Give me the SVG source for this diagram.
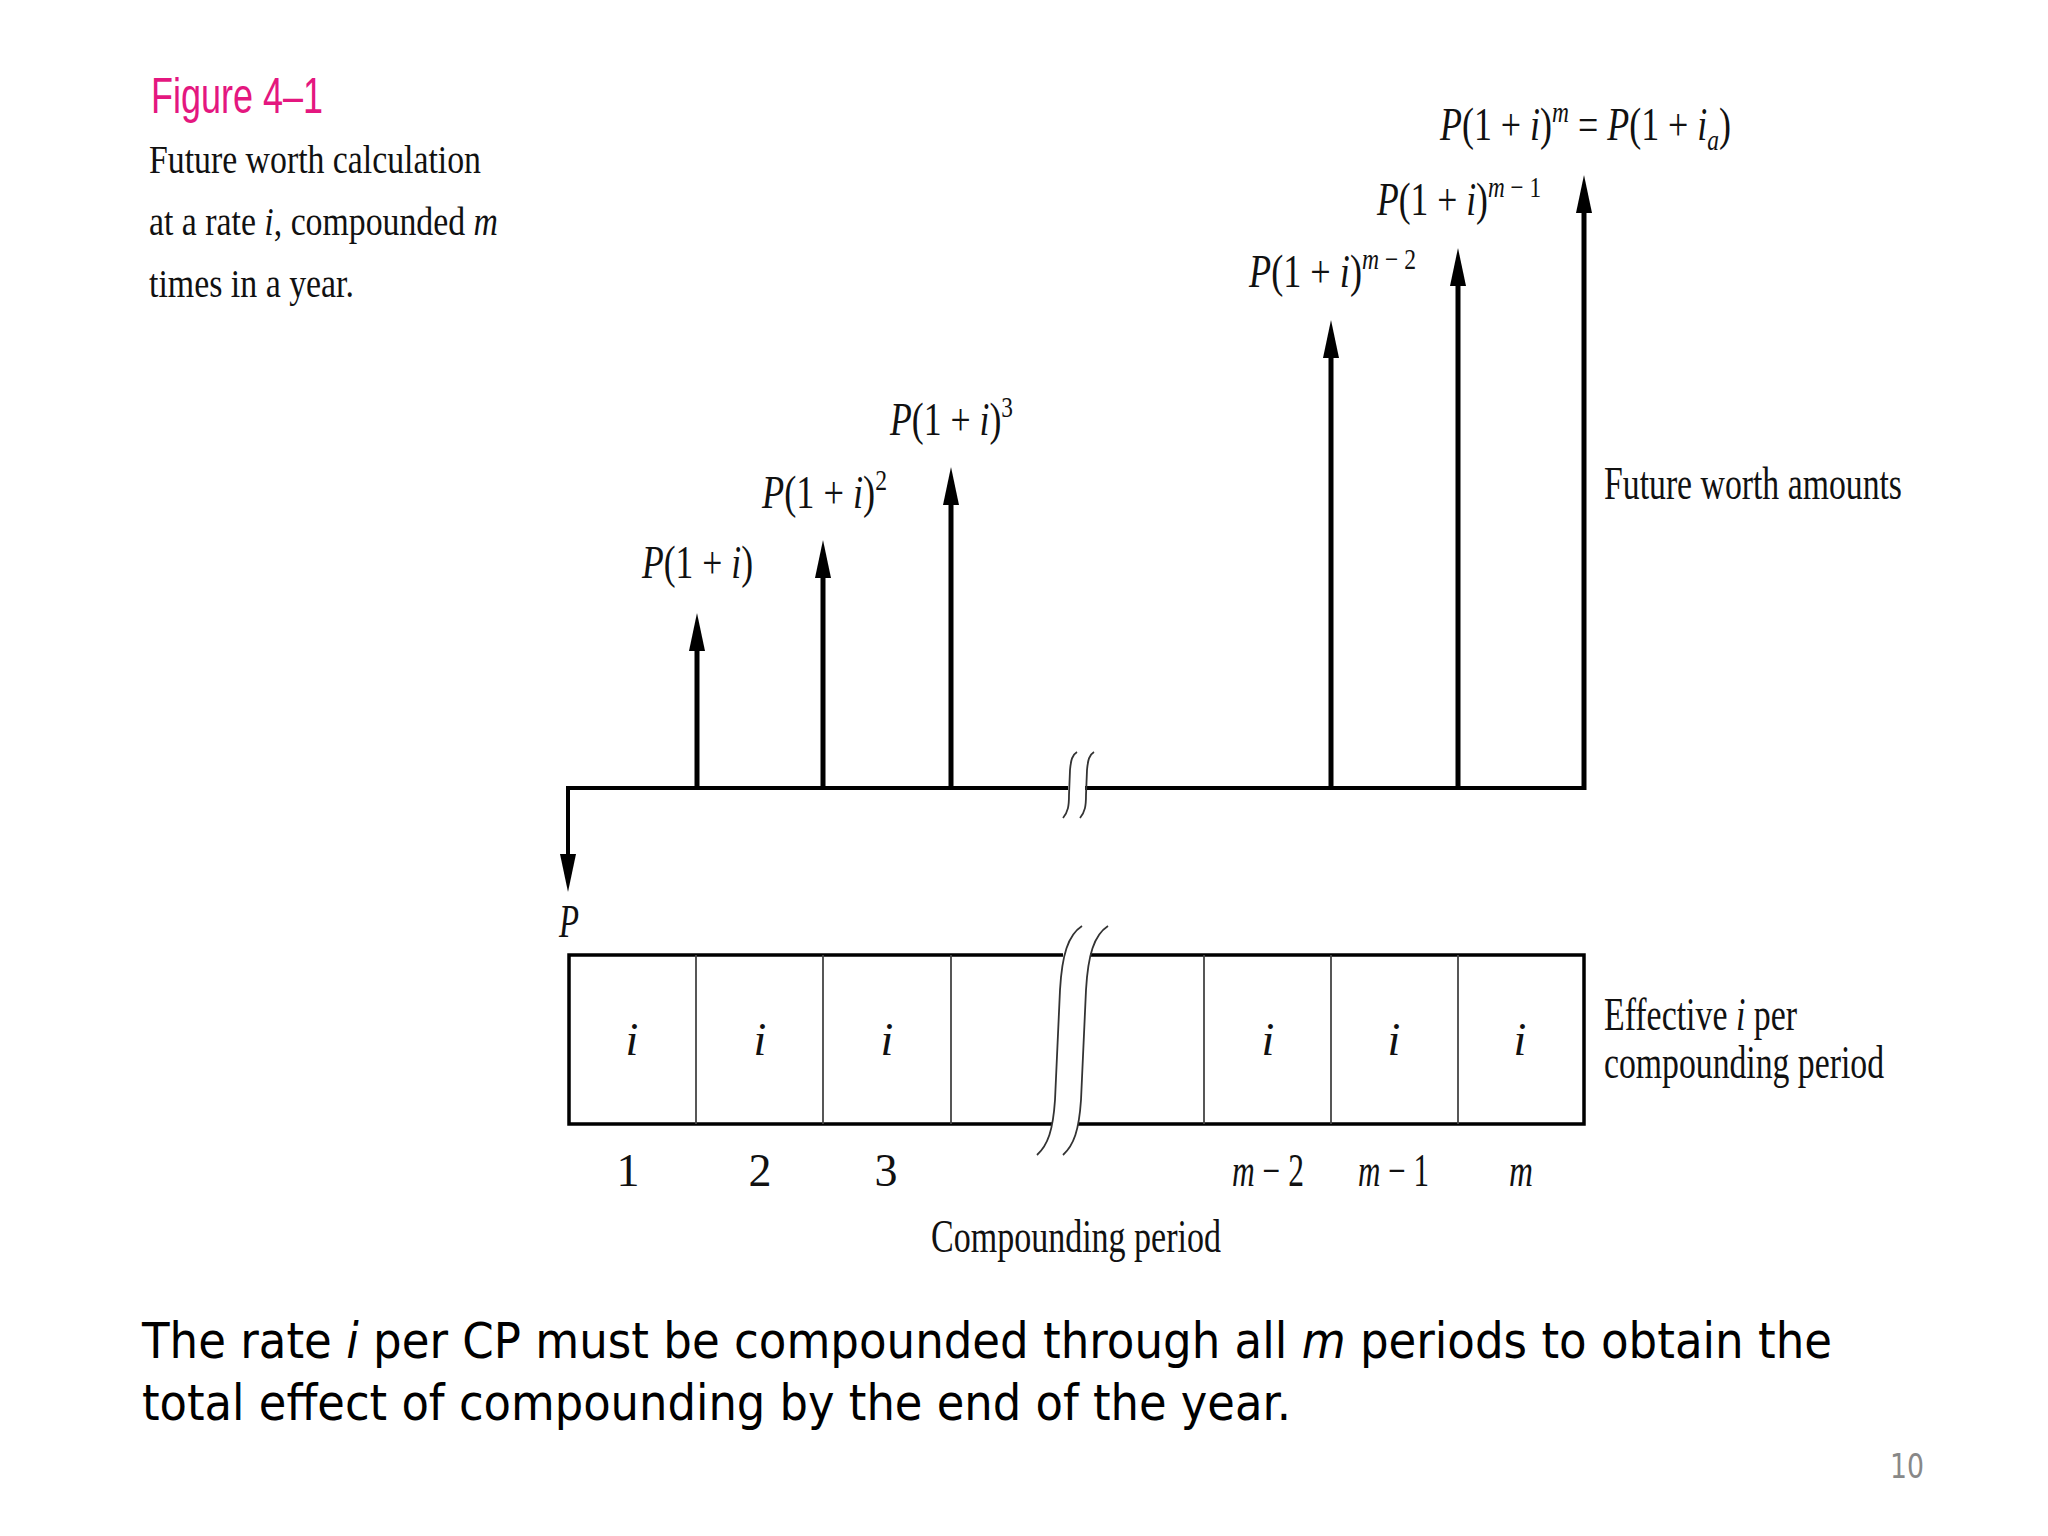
<svg xmlns="http://www.w3.org/2000/svg" width="2048" height="1536" viewBox="0 0 2048 1536">
<defs>
<style>
.ser{font-family:"Liberation Serif","Times New Roman",serif;fill:#111}
.cap{font-size:40px}
.lab{font-size:46px}
.it{font-style:italic}
.sup{font-size:30px}
.arrow{stroke:#000;stroke-width:5;fill:none;marker-end:url(#ah)}
.axis{stroke:#000;stroke-width:4;fill:none}
.box{stroke:#000;stroke-width:3.5;fill:none}
.div{stroke:#444;stroke-width:1.8}
.brk{stroke:#333;stroke-width:1.8;fill:none}
.body{font-family:"DejaVu Sans",Verdana,sans-serif;font-size:50px;fill:#000}
</style>
<marker id="ah" markerUnits="userSpaceOnUse" viewBox="0 0 38 16" refX="8" refY="8" markerWidth="38" markerHeight="16" orient="auto">
<path d="M0,0 L38,8 L0,16 Z" fill="#000"/>
</marker>
</defs>
<rect width="2048" height="1536" fill="#fff"/>

<g id="title">
<text x="151" y="113" font-family="Liberation Sans, Arial, sans-serif" font-size="50" fill="#e4177f" textLength="172" lengthAdjust="spacingAndGlyphs">Figure 4–1</text>
<text class="ser cap" x="149" y="173" textLength="332" lengthAdjust="spacingAndGlyphs">Future worth calculation</text>
<text class="ser cap" x="149" y="235" textLength="349" lengthAdjust="spacingAndGlyphs">at a rate <tspan class="it">i</tspan>, compounded <tspan class="it">m</tspan></text>
<text class="ser cap" x="149" y="297" textLength="205" lengthAdjust="spacingAndGlyphs">times in a year.</text>
</g>

<g id="connectors">
<path class="axis" d="M1068,788 H568 V862" style="marker-end:url(#ah)"/>
<path class="axis" d="M1085,788 H1584"/>
<line class="arrow" x1="697" y1="790" x2="697" y2="643"/>
<line class="arrow" x1="823" y1="790" x2="823" y2="570"/>
<line class="arrow" x1="951" y1="790" x2="951" y2="497"/>
<line class="arrow" x1="1331" y1="790" x2="1331" y2="350"/>
<line class="arrow" x1="1458" y1="790" x2="1458" y2="278"/>
<line class="arrow" x1="1584" y1="790" x2="1584" y2="205"/>
<path class="brk" d="M1063,818 C1068,812 1069,806 1069,795 L1070,770 C1071,760 1072,755 1077,752"/>
<path class="brk" d="M1080,818 C1085,812 1086,806 1086,795 L1087,770 C1088,760 1089,755 1094,752"/>
</g>

<g id="labels-amounts">
<text class="ser lab" x="642" y="578" textLength="111" lengthAdjust="spacingAndGlyphs"><tspan class="it">P</tspan>(1 + <tspan class="it">i</tspan>)</text>
<text class="ser lab" x="762" y="508" textLength="125" lengthAdjust="spacingAndGlyphs"><tspan class="it">P</tspan>(1 + <tspan class="it">i</tspan>)<tspan class="sup" dy="-18">2</tspan></text>
<text class="ser lab" x="890" y="435" textLength="123" lengthAdjust="spacingAndGlyphs"><tspan class="it">P</tspan>(1 + <tspan class="it">i</tspan>)<tspan class="sup" dy="-18">3</tspan></text>
<text class="ser lab" x="1249" y="287" textLength="167" lengthAdjust="spacingAndGlyphs"><tspan class="it">P</tspan>(1 + <tspan class="it">i</tspan>)<tspan class="sup" dy="-18"><tspan class="it">m</tspan> − 2</tspan></text>
<text class="ser lab" x="1377" y="215" textLength="164" lengthAdjust="spacingAndGlyphs"><tspan class="it">P</tspan>(1 + <tspan class="it">i</tspan>)<tspan class="sup" dy="-18"><tspan class="it">m</tspan> − 1</tspan></text>
<text class="ser lab" x="1440" y="140" textLength="291" lengthAdjust="spacingAndGlyphs"><tspan class="it">P</tspan>(1 + <tspan class="it">i</tspan>)<tspan class="sup it" dy="-18">m</tspan><tspan dy="18"> = </tspan><tspan class="it">P</tspan>(1 + <tspan class="it">i</tspan><tspan class="sup it" dy="10">a</tspan><tspan dy="-10">)</tspan></text>
<text class="ser lab it" x="559" y="937" textLength="20" lengthAdjust="spacingAndGlyphs">P</text>
<text class="ser lab" x="1604" y="499" textLength="298" lengthAdjust="spacingAndGlyphs">Future worth amounts</text>
</g>

<g id="period-box">
<path class="box" d="M1063,955 H569 V1124 H1052"/>
<path class="box" d="M1090,955 H1584 V1124 H1078"/>
<line class="div" x1="696" y1="955" x2="696" y2="1124"/>
<line class="div" x1="823" y1="955" x2="823" y2="1124"/>
<line class="div" x1="951" y1="955" x2="951" y2="1124"/>
<line class="div" x1="1204" y1="955" x2="1204" y2="1124"/>
<line class="div" x1="1331" y1="955" x2="1331" y2="1124"/>
<line class="div" x1="1458" y1="955" x2="1458" y2="1124"/>
<path class="brk" d="M1037,1155 C1048,1145 1053,1130 1055,1100 L1060,990 C1062,955 1068,935 1082,926"/>
<path class="brk" d="M1063,1155 C1074,1145 1079,1130 1081,1100 L1086,990 C1088,955 1094,935 1108,926"/>
<g class="ser lab it" text-anchor="middle">
<text x="632" y="1055">i</text>
<text x="760" y="1055">i</text>
<text x="887" y="1055">i</text>
<text x="1268" y="1055">i</text>
<text x="1394" y="1055">i</text>
<text x="1520" y="1055">i</text>
</g>
<g class="ser lab">
<text x="628" y="1186" text-anchor="middle">1</text>
<text x="760" y="1186" text-anchor="middle">2</text>
<text x="886" y="1186" text-anchor="middle">3</text>
<text x="1232" y="1186" textLength="72" lengthAdjust="spacingAndGlyphs"><tspan class="it">m</tspan> − 2</text>
<text x="1358" y="1186" textLength="71" lengthAdjust="spacingAndGlyphs"><tspan class="it">m</tspan> − 1</text>
<text x="1509" y="1186" class="it" textLength="24" lengthAdjust="spacingAndGlyphs">m</text>
</g>
<text class="ser lab" x="931" y="1252" textLength="290" lengthAdjust="spacingAndGlyphs">Compounding period</text>
<text class="ser lab" x="1604" y="1030" textLength="193" lengthAdjust="spacingAndGlyphs">Effective <tspan class="it">i</tspan> per</text>
<text class="ser lab" x="1604" y="1078" textLength="280" lengthAdjust="spacingAndGlyphs">compounding period</text>
</g>

<g id="note">
<text class="body" x="142" y="1358" textLength="1690" lengthAdjust="spacingAndGlyphs">The rate <tspan font-style="italic">i</tspan> per CP must be compounded through all <tspan font-style="italic">m</tspan> periods to obtain the</text>
<text class="body" x="142" y="1420" textLength="1149" lengthAdjust="spacingAndGlyphs">total effect of compounding by the end of the year.</text>
<text x="1890" y="1478" font-family="DejaVu Sans, Verdana, sans-serif" font-size="34" fill="#888" textLength="34" lengthAdjust="spacingAndGlyphs">10</text>
</g>
</svg>
